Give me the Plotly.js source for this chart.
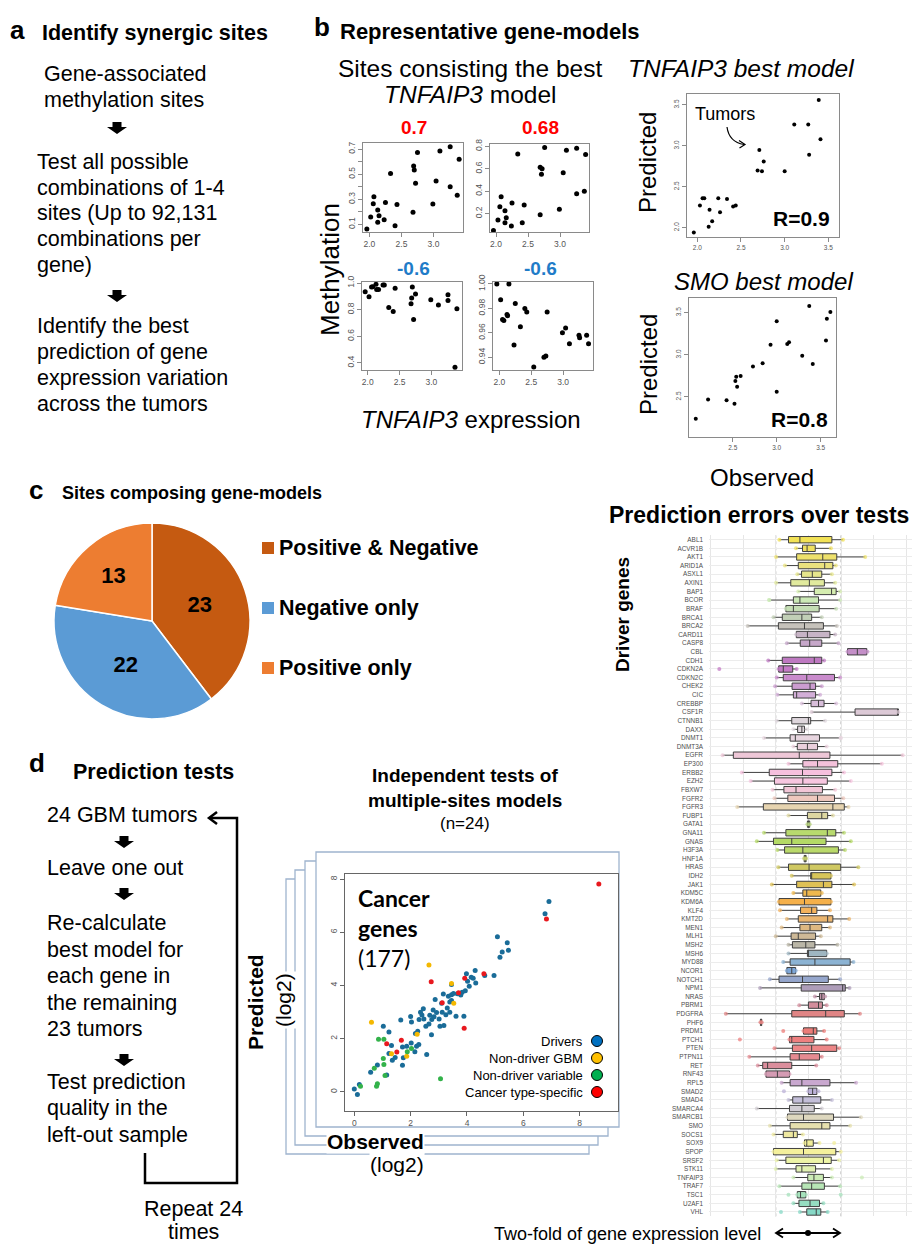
<!DOCTYPE html>
<html><head><meta charset="utf-8">
<script src="https://cdn.plot.ly/plotly-3.0.1.min.js"></script>
<style>html,body{margin:0;padding:0;background:#fff}#chart{width:919px;height:1244px}</style>
</head><body><div id="chart"></div>
<script>
// ---------- DATA ----------
// Panel b: methylation sites vs TNFAIP3 expression (24 tumors)
const site1X = [1.96,2.02,2.06,2.07,2.13,2.15,2.13,2.23,2.25,2.33,2.40,2.43,2.68,2.69,2.70,2.72,2.75,2.99,3.04,3.10,3.26,3.26,3.37,3.40];
const site1Y = [0.063,0.158,0.265,0.320,0.214,0.169,0.116,0.137,0.275,0.506,0.089,0.259,0.196,0.565,0.533,0.427,0.673,0.262,0.445,0.684,0.400,0.719,0.331,0.618];
const site2X = [1.96,2.03,2.06,2.08,2.14,2.16,2.14,2.24,2.25,2.34,2.41,2.44,2.69,2.69,2.71,2.72,2.76,2.99,3.05,3.10,3.26,3.26,3.38,3.40];
const site2Y = [0.05,0.144,0.262,0.351,0.227,0.164,0.12,0.09,0.295,0.73,0.12,0.277,0.19,0.613,0.55,0.60,0.788,0.239,0.565,0.764,0.378,0.782,0.40,0.726];
const site3X = [1.96,2.02,2.06,2.08,2.13,2.14,2.17,2.24,2.26,2.33,2.40,2.43,2.68,2.69,2.70,2.72,2.75,2.99,3.11,3.26,3.26,3.37,3.40];
const site3Y = [0.935,0.897,0.970,0.972,0.990,0.952,0.952,0.985,0.985,0.817,0.786,0.960,0.844,0.887,0.970,0.726,0.917,0.874,0.834,0.912,0.869,0.367,0.807];
const site4X = [1.96,2.02,2.05,2.07,2.12,2.13,2.15,2.23,2.25,2.33,2.40,2.43,2.54,2.70,2.73,2.75,2.99,3.04,3.10,3.25,3.26,3.37,3.40];
const site4Y = [1.000,0.987,0.971,0.970,0.975,0.974,1.000,0.950,0.984,0.965,0.980,0.977,0.932,0.940,0.941,0.977,0.960,0.964,0.951,0.958,0.956,0.958,0.951];
const siteCorr = ["0.7","0.68","-0.6","-0.6"];
// Best models: observed vs predicted
const tnfObs  = [1.96,2.03,2.06,2.08,2.13,2.14,2.17,2.24,2.26,2.34,2.41,2.44,2.69,2.71,2.74,2.76,3.00,3.11,3.27,3.28,3.39,3.41];
const tnfPred = [1.94,2.27,2.36,2.36,2.01,2.22,2.08,2.36,2.19,2.35,2.26,2.27,2.70,2.95,2.69,2.81,2.69,3.26,3.26,2.89,3.56,3.08];
const smoObs  = [2.08,2.22,2.43,2.52,2.53,2.54,2.55,2.59,2.73,2.84,2.93,3.00,3.00,3.12,3.14,3.29,3.37,3.41,3.56,3.57,3.61];
const smoPred = [2.24,2.47,2.46,2.42,2.69,2.74,2.62,2.75,2.86,2.90,3.12,3.40,2.56,3.13,3.15,2.99,3.58,2.89,3.17,3.43,3.51];
// Panel c: pie
const pieLabels = ["Positive & Negative","Negative only","Positive only"];
const pieValues = [23,22,13];
// Panel d: independent tests (observed vs predicted, log2)
const groupNames = ["Drivers","Non-driver GBM","Non-driver variable","Cancer type-specific"];
const drvX = [0.00,0.11,0.18,0.58,0.82,1.03,1.23,1.23,1.15,1.35,1.32,1.65,1.71,1.74,1.71,2.02,2.00,2.03,2.15,2.17,2.25,2.21,2.29,2.30,2.35,2.40,2.45,2.47,2.57,2.54,2.65,2.68,2.75,2.74,2.80,2.83,2.87,2.92,3.01,3.04,3.10,3.12,3.16,3.18,3.25,3.30,3.34,3.39,3.39,3.45,3.45,3.45,3.52,3.61,3.66,3.78,3.83,3.89,3.94,3.98,4.02,4.08,4.15,4.29,4.31,4.22,4.63,4.96,5.08,5.17,5.25,5.43,5.47,6.77,6.91,1.45,1.86];
const drvY = [0.11,-0.10,0.28,0.74,1.01,2.47,2.25,1.44,0.63,1.19,1.74,2.70,1.00,1.28,1.69,1.84,2.83,2.63,1.51,2.19,2.28,1.71,1.78,2.72,2.99,2.89,3.12,2.74,1.40,2.47,2.55,2.88,2.72,2.15,3.08,2.82,3.47,2.98,2.74,2.47,3.33,2.99,3.68,2.49,2.90,3.15,3.59,2.99,3.38,4.04,3.65,3.43,3.70,2.84,3.69,3.64,3.74,2.84,3.80,4.44,4.16,3.97,4.31,4.56,4.09,4.27,4.37,4.37,5.83,5.06,5.26,5.61,5.32,6.70,7.16,1.29,1.71];
const gbmX = [0.61,1.32,1.86,2.23,2.65,3.45,3.53];
const gbmY = [2.62,1.43,1.34,2.17,4.77,4.07,3.33];
const varX = [0.22,0.71,0.82,0.79,0.86,1.05,1.03,1.05,1.09,1.88,2.03,3.06];
const varY = [0.21,0.89,0.30,0.21,1.98,1.98,1.25,1.03,0.61,1.51,1.63,0.49];
const ctsX = [1.15,1.51,1.67,2.73,3.12,3.70,3.92,3.90,4.60,6.82,8.68];
const ctsY = [1.81,1.50,1.94,4.14,3.35,3.73,4.27,2.39,4.44,6.50,7.81];
// Prediction errors over tests (log2 fold error) per driver gene
const genes = ["ABL1","ACVR1B","AKT1","ARID1A","ASXL1","AXIN1","BAP1","BCOR","BRAF","BRCA1","BRCA2","CARD11","CASP8","CBL","CDH1","CDKN2A","CDKN2C","CHEK2","CIC","CREBBP","CSF1R","CTNNB1","DAXX","DNMT1","DNMT3A","EGFR","EP300","ERBB2","EZH2","FBXW7","FGFR2","FGFR3","FUBP1","GATA1","GNA11","GNAS","H3F3A","HNF1A","HRAS","IDH2","JAK1","KDM5C","KDM6A","KLF4","KMT2D","MEN1","MLH1","MSH2","MSH6","MYD88","NCOR1","NOTCH1","NPM1","NRAS","PBRM1","PDGFRA","PHF6","PRDM1","PTCH1","PTEN","PTPN11","RET","RNF43","RPL5","SMAD2","SMAD4","SMARCA4","SMARCB1","SMO","SOCS1","SOX9","SPOP","SRSF2","STK11","TNFAIP3","TRAF7","TSC1","U2AF1","VHL"];
const errLo  = [-0.89,-0.38,-0.99,-0.72,-0.34,-0.99,-0.31,-1.20,-0.69,-1.07,-1.86,-0.37,-0.66,1.20,-1.23,-0.91,-0.97,-1.02,-0.95,-0.20,0.10,-0.97,-0.46,-1.36,-0.46,-2.63,-0.61,-2.04,-1.77,-1.10,-1.04,-2.18,-0.61,-0.03,-1.36,-1.58,-0.95,-0.13,-0.92,-0.51,-1.12,-0.46,-0.90,-0.87,-0.66,-0.82,-1.00,-0.61,-0.61,-0.77,-0.66,-1.18,-1.48,0.20,-0.28,-2.53,-1.47,-0.15,-0.58,-1.04,-1.81,-1.55,-1.30,-0.82,0.00,-0.61,-1.58,-0.64,-1.18,-1.07,-0.12,-1.07,-0.97,-1.00,-0.46,-0.89,-0.34,-0.46,-0.26];
const errQ1  = [-0.61,-0.18,-0.36,-0.31,-0.21,-0.54,0.18,-0.46,-0.69,-0.80,-0.92,-0.37,-0.25,1.20,-0.80,-0.91,-0.77,-0.50,-0.46,0.08,1.43,-0.51,-0.33,-0.56,-0.34,-2.30,-0.17,-1.20,-1.04,-0.75,-0.63,-1.38,-0.03,-0.03,-0.69,-1.07,-0.73,-0.13,-0.61,0.07,-0.36,-0.17,-0.90,-0.24,-0.31,-0.26,-0.53,-0.49,-0.03,-0.56,-0.66,-0.90,-0.22,0.34,0.00,-0.51,-1.47,-0.15,-0.58,-0.49,-0.56,-1.40,-1.30,-0.56,0.00,-0.48,-0.58,-0.64,-0.56,-0.77,-0.12,-1.07,-0.69,-0.38,-0.02,-0.20,-0.34,-0.29,-0.05];
const errMed = [-0.26,-0.04,0.44,0.50,0.12,0.03,0.71,-0.26,-0.46,-0.20,-0.12,-0.03,0.04,1.50,0.18,-0.77,-0.05,0.05,-0.36,0.31,2.73,0.00,-0.20,-0.40,-0.03,-0.28,0.28,-0.18,-0.17,-0.38,0.28,0.75,0.41,0.00,0.58,-0.51,-0.17,-0.10,0.02,0.10,0.46,-0.05,-0.12,0.10,0.59,0.05,-0.31,-0.08,-0.02,0.20,-0.51,-0.18,1.05,0.41,0.31,0.53,-1.45,0.15,-0.51,0.10,-0.28,-1.25,-0.95,-0.20,0.13,-0.17,-0.20,-0.15,0.41,-0.46,-0.05,-0.15,0.46,-0.20,0.17,0.10,-0.24,0.05,0.24];
const errQ3  = [0.72,0.21,0.87,0.75,0.41,0.49,0.85,0.31,0.33,0.10,0.46,0.66,0.41,1.79,0.41,-0.48,0.80,0.22,0.22,0.48,2.76,0.07,-0.12,0.34,0.28,0.66,0.90,0.72,0.58,0.43,0.80,1.10,0.59,0.04,0.84,0.54,0.92,-0.07,0.99,0.69,0.72,0.38,0.69,0.26,0.75,0.41,0.22,0.20,0.56,1.28,-0.39,0.61,1.13,0.49,0.43,1.10,-1.43,0.26,0.17,0.87,0.34,-0.51,-0.58,0.66,0.26,0.38,0.18,0.77,0.66,-0.34,0.15,0.84,0.70,0.22,0.46,0.49,-0.08,0.34,0.38];
const errHi  = [1.06,0.69,1.74,0.84,0.72,0.82,0.97,0.97,0.85,0.41,0.87,0.82,0.92,1.81,0.48,-0.36,0.97,0.41,0.36,0.85,2.76,0.51,-0.05,0.99,0.56,2.89,2.25,1.09,1.30,0.82,1.07,1.23,0.75,0.04,1.09,1.30,1.12,-0.07,1.53,0.69,1.40,0.41,0.69,0.66,1.25,0.66,0.38,0.89,0.56,1.38,-0.39,0.97,1.26,0.51,0.56,1.58,-1.43,0.48,0.56,0.94,0.41,0.24,-0.58,1.46,0.31,0.72,0.41,1.61,1.28,-0.17,0.34,0.99,0.94,0.72,0.72,0.97,-0.08,0.46,0.59];
const outGenes = ["CDKN2A","PRDM1","PTCH1","SMAD2","TNFAIP3","VHL","TSC1","TSC1","SOX9","BCOR","DNMT1"];
const outVals  = [-2.73,-0.77,-2.10,-0.75,1.64,-0.84,0.99,-0.61,0.79,-1.20,0.99];

// ---------- STYLE ----------
const geneColors = ["#F2E256","#EFE060","#EEE16C","#EAE27E","#E6E58C","#E1EA9E","#D5EDB0","#CBE9B6","#C4DDB4","#C1CFB6","#C6C2BB","#C7B4C6","#C6A7C9","#C48FC8","#BE79C1","#C47BC6","#C98BCC","#CC9DD0","#D2AED7","#D8BEDA","#DCC9D6","#DED6DC","#E2D9DF","#E7D5DF","#EAD0DC","#EEC7D7","#F3C1DA","#F6C0DE","#F7C6E0","#F2C6D7","#EEC8BE","#E6D4B0","#DDD7A2","#B8D47E","#B8DA6E","#B4DA66","#BAD96A","#C6D26A","#CFC862","#D7C55A","#DFC155","#EFB84E","#F5B04A","#F4B25C","#EAB56F","#DEB881","#CEB997","#BAB6A7","#9FB6C1","#8CB3D3","#7EA7D7","#95A6CC","#AE9DB9","#C193A8","#D38E9C","#E08585","#E68180","#EC7C78","#EE7F7F","#EC8687","#E68B91","#DB8E9C","#D49BB3","#C9A8CF","#BCB2D8","#C3BED8","#D1CDD3","#DDD7BE","#E6E0AE","#EEE8A0","#F1EE98","#F4F09C","#EDF4A7","#E1F1B2","#CBEBB5","#B7E6B6","#A6E2BC","#96DDC1","#86D8C6"];
const W = 919, H = 1244;
const F = "'Liberation Sans', Arial, sans-serif";
const px = x => x / W, py = y => 1 - y / H;
const xd = (a, b) => [px(a), px(b)], yd = (t, b) => [py(b), py(t)];

function ann(text, x, y, size, o) {
  const left = !o || !o.xanchor || o.xanchor === 'left';
  return Object.assign({xref:'paper', yref:'paper', x:px(left ? x - 2 : x), y:py(y), text:text, showarrow:false,
    xanchor:'left', yanchor:'middle', font:{family:F, size:size, color:'#000'}}, o || {});
}
function rAxis(domain, range, tv, fmt, anchor, o) {
  return Object.assign({domain:domain, range:range, anchor:anchor, showline:true, mirror:true,
    linecolor:'#8a8a8a', linewidth:1, ticks:'outside', ticklen:4, tickcolor:'#8a8a8a',
    tickvals:tv, ticktext:tv.map(v => v.toFixed(fmt)), tickfont:{family:F, size:8.5, color:'#555'},
    showgrid:false, zeroline:false, fixedrange:true}, o || {});
}
const dot = (x, y, xa, ya, size, color) => ({type:'scatter', mode:'markers', x:x, y:y, xaxis:xa, yaxis:ya,
  marker:{size:size, color:color}, hoverinfo:'skip', showlegend:false});

const data = [];
data.push(dot(site1X, site1Y, 'x', 'y', 5, '#000'));
data.push(dot(site2X, site2Y, 'x2', 'y2', 5, '#000'));
data.push(dot(site3X, site3Y, 'x3', 'y3', 5, '#000'));
data.push(dot(site4X, site4Y, 'x4', 'y4', 5, '#000'));
data.push(dot(tnfObs, tnfPred, 'x5', 'y5', 4, '#000'));
data.push(dot(smoObs, smoPred, 'x6', 'y6', 4, '#000'));
// panel d
const grpX = [drvX, gbmX, varX, ctsX], grpY = [drvY, gbmY, varY, ctsY];
const grpCol = ['#1A6C98', '#F4B800', '#33B24A', '#E8181E'];
grpX.forEach((gx, i) => data.push(dot(gx, grpY[i], 'x7', 'y7', 5, grpCol[i])));
// pie
data.push({type:'pie', values:pieValues, labels:pieLabels, sort:false, direction:'clockwise', rotation:0,
  marker:{colors:['#C55A11','#5B9BD5','#ED7D31'], line:{color:'#fff', width:1.5}},
  texttemplate:'<b>%{value}</b>', textposition:'inside', insidetextorientation:'horizontal',
  insidetextfont:{family:F, size:22, color:'#000'}, hoverinfo:'skip', showlegend:false,
  domain:{x:xd(54, 250), y:yd(523, 719)}});
// box plot
genes.forEach((g, i) => {
  data.push({type:'box', orientation:'h', y:[g], q1:[errQ1[i]], median:[errMed[i]], q3:[errQ3[i]],
    lowerfence:[errLo[i]], upperfence:[errHi[i]], xaxis:'x8', yaxis:'y8', fillcolor:geneColors[i],
    line:{color:'#404040', width:1}, whiskerwidth:0, width:0.74, boxpoints:false, hoverinfo:'skip', showlegend:false});
});
const dX = [], dY = [], dC = [];
genes.forEach((g, i) => { [errLo[i], errHi[i]].forEach(v => { dX.push(v); dY.push(g); dC.push(geneColors[i]); }); });
outGenes.forEach((g, k) => { dX.push(outVals[k]); dY.push(g); dC.push(geneColors[genes.indexOf(g)]); });
data.push({type:'scatter', mode:'markers', x:dX, y:dY, xaxis:'x8', yaxis:'y8',
  marker:{size:4, color:dC, opacity:0.75}, hoverinfo:'skip', showlegend:false});

// ---------- LAYOUT ----------
const small = {family:F, size:6.5, color:'#555'};
const layout = {
  width:W, height:H, margin:{l:0, r:0, t:0, b:0}, paper_bgcolor:'#fff', plot_bgcolor:'rgba(0,0,0,0)',
  showlegend:false, font:{family:F},
  xaxis:  rAxis(xd(363,463), [1.90,3.46], [2.0,2.5,3.0], 1, 'y'),
  yaxis:  rAxis(yd(143,232), [0.039,0.748], [0.1,0.3,0.5,0.7], 1, 'x', {tickangle:-90, minor:{tickvals:[0.2,0.4,0.6], ticks:'outside', ticklen:4, tickcolor:'#8a8a8a'}}),
  xaxis2: rAxis(xd(490,589), [1.906,3.453], [2.0,2.5,3.0], 1, 'y2'),
  yaxis2: rAxis(yd(144,232), [0.037,0.82], [0.2,0.4,0.6,0.8], 1, 'x2', {tickangle:-90}),
  xaxis3: rAxis(xd(362,462), [1.91,3.48], [2.0,2.5,3.0], 1, 'y3'),
  yaxis3: rAxis(yd(282,370), [0.347,1.0075], [0.4,0.6,0.8,1.0], 1, 'x3', {tickangle:-90}),
  xaxis4: rAxis(xd(493,593), [1.90,3.47], [2.0,2.5,3.0], 1, 'y4'),
  yaxis4: rAxis(yd(282,370), [0.9296,1.0016], [0.94,0.96,0.98,1.00], 2, 'x4', {tickangle:-90}),
  xaxis5: rAxis(xd(687,839), [1.882,3.622], [2.0,2.5,3.0,3.5], 1, 'y5', {tickfont:small}),
  yaxis5: rAxis(yd(94,237), [1.886,3.634], [2.0,2.5,3.0,3.5], 1, 'x5', {tickangle:-90, tickfont:small}),
  xaxis6: rAxis(xd(689,836), [2.003,3.674], [2.5,3.0,3.5], 1, 'y6', {tickfont:small}),
  yaxis6: rAxis(yd(298,437), [2.024,3.675], [2.5,3.0,3.5], 1, 'x6', {tickangle:-90, tickfont:small}),
  xaxis7: rAxis(xd(345,618), [-0.33,9.36], [0,2,4,6,8], 0, 'y7', {linecolor:'#666', tickcolor:'#666'}),
  yaxis7: rAxis(yd(874,1111), [-0.72,8.19], [0,2,4,6,8], 0, 'x7', {tickangle:-90, linecolor:'#666', tickcolor:'#666'}),
  xaxis8: {domain:xd(709,912), range:[-3.046,3.175], anchor:'y8', tickvals:[-3,-2,-1,0,1,2,3], showticklabels:false,
           ticks:'', showgrid:true, gridcolor:'#e6e6e6', gridwidth:1, zeroline:false, showline:false, fixedrange:true},
  yaxis8: {domain:yd(535.4,1216.3), type:'category', categoryorder:'array', categoryarray:genes, range:[genes.length-0.5,-0.5],
           anchor:'x8', showgrid:true, gridcolor:'#ececec', ticks:'', ticklabelstandoff:5, zeroline:false, showline:false,
           tickfont:{family:F, size:6.4, color:'#4d4d4d'}, fixedrange:true},
  annotations:[], shapes:[]
};
const A = layout.annotations, S = layout.shapes;
const B = t => '<b>' + t + '</b>';
// Panel letters & headers
A.push(ann(B('a'), 10, 30, 26)); A.push(ann(B('Identify synergic sites'), 42, 33, 21.5));
A.push(ann(B('b'), 314, 27, 26)); A.push(ann(B('Representative gene-models'), 340, 32, 22));
A.push(ann(B('c'), 29, 490, 26)); A.push(ann(B('Sites composing gene-models'), 62, 493, 18));
A.push(ann(B('d'), 29, 763, 26)); A.push(ann(B('Prediction tests'), 73, 772, 21.5));
// Panel a text
[['Gene-associated',44,74],['methylation sites',44,100],['Test all possible',37,162],['combinations of 1-4',37,188],
 ['sites (Up to 92,131',37,213],['combinations per',37,239],['gene)',37,265],['Identify the best',37,326],
 ['prediction of gene',37,352],['expression variation',37,378],['across the tumors',37,404]]
 .forEach(t => A.push(ann(t[0], t[1], t[2], 21.5)));
// Panel d text
[['24 GBM tumors',815],['Leave one out',868],['Re-calculate',923],['best model for',950],['each gene in',976],
 ['the remaining',1003],['23 tumors',1029],['Test prediction',1082],['quality in the',1108],['left-out sample',1135]]
 .forEach(t => A.push(ann(t[0], 47, t[1], 21.5)));
A.push(ann('Repeat 24', 193, 1209, 21.5, {xanchor:'center'}));
A.push(ann('times', 193, 1232, 21.5, {xanchor:'center'}));
// Block arrows
function downArrow(cx, top) {
  const p = [[cx-4.5,top],[cx+4.5,top],[cx+4.5,top+5],[cx+10,top+5],[cx,top+12],[cx-10,top+5],[cx-4.5,top+5]];
  return {type:'path', xref:'paper', yref:'paper', path:'M' + p.map(q => px(q[0]) + ',' + py(q[1])).join(' L') + ' Z',
    fillcolor:'#000', line:{width:0}};
}
[[117,122],[117,290],[124,836],[124,888],[124,1054]].forEach(a => S.push(downArrow(a[0], a[1])));
function pathS(pts, w, o) {
  return Object.assign({type:'path', xref:'paper', yref:'paper', path:'M' + pts.map(q => px(q[0]) + ',' + py(q[1])).join(' L'),
    line:{color:'#000', width:w}}, o || {});
}
S.push(pathS([[145,1153],[145,1183],[237,1183],[237,818],[210,818]], 2.5));
S.push(pathS([[217,812],[209,818],[217,824]], 2.5));
// Panel b text
A.push(ann('Sites consisting the best', 470, 68, 24.5, {xanchor:'center'}));
A.push(ann('<i>TNFAIP3</i> model', 470, 95, 24.5, {xanchor:'center'}));
const corrPos = [[414,128,'#FF0000'],[540,128,'#FF0000'],[413,268,'#1F7CC8'],[540,268,'#1F7CC8']];
siteCorr.forEach((c, i) => A.push(ann(B(c), corrPos[i][0], corrPos[i][1], 19, {xanchor:'center', font:{family:F, size:19, color:corrPos[i][2]}})));
A.push(ann('Methylation', 330, 270, 26, {xanchor:'center', textangle:-90}));
A.push(ann('<i>TNFAIP3</i> expression', 471, 420, 24, {xanchor:'center'}));
A.push(ann('<i>TNFAIP3 best model</i>', 741, 68, 24.5, {xanchor:'center'}));
A.push(ann('Predicted', 648, 163, 24, {xanchor:'center', textangle:-90}));
A.push(ann('Tumors', 725, 114, 18, {xanchor:'center'}));
S.push({type:'path', xref:'paper', yref:'paper', path:'M' + px(727) + ',' + py(127) + ' Q' + px(729) + ',' + py(142) + ' ' + px(744) + ',' + py(144.5), line:{color:'#000', width:1.2}});
S.push(pathS([[739,140.5],[745,144.5],[739.5,148]], 1.2));
A.push(ann(B('R=0.9'), 801, 219, 21, {xanchor:'center'}));
A.push(ann('<i>SMO best model</i>', 763, 281, 24, {xanchor:'center'}));
A.push(ann('Predicted', 648, 365, 24, {xanchor:'center', textangle:-90}));
A.push(ann(B('R=0.8'), 799, 419, 21, {xanchor:'center'}));
A.push(ann('Observed', 762, 477, 24, {xanchor:'center'}));
// Panel c legend
const pieCols = ['#C55A11','#5B9BD5','#ED7D31'];
pieLabels.forEach((l, i) => {
  const yc = 548 + 60 * i;
  S.push({type:'rect', xref:'paper', yref:'paper', x0:px(262), x1:px(274), y0:py(yc+6), y1:py(yc-6), fillcolor:pieCols[i], line:{width:0}});
  A.push(ann(B(l), 279, yc, 21.5));
});
// Panel d middle
A.push(ann(B('Independent tests of'), 465, 775, 19, {xanchor:'center'}));
A.push(ann(B('multiple-sites models'), 465, 800, 19, {xanchor:'center'}));
A.push(ann('(n=24)', 465, 823, 17, {xanchor:'center'}));
// stacked cards (back to front)
[[286,879,589,1154],[295,870,598,1145],[305,861,608,1136],[316,852,619,1127]].forEach(c =>
  S.push({type:'rect', xref:'paper', yref:'paper', layer:'below', x0:px(c[0]), x1:px(c[2]), y0:py(c[3]), y1:py(c[1]),
    fillcolor:'#fff', line:{color:'#9FB4CE', width:1.3}}));
const LF = {family:"Lato, 'Liberation Sans', sans-serif", size:23, color:'#000'};
A.push(ann(B('Cancer'), 358, 898, 23, {font:LF}));
A.push(ann(B('genes'), 358, 928, 23, {font:LF}));
A.push(ann('(177)', 358, 958, 23, {font:LF}));
A.push(ann(B('Predicted'), 256, 1002, 21, {xanchor:'center', textangle:-90, bgcolor:'#fff'}));
A.push(ann('(log2)', 283, 1000, 21, {xanchor:'center', textangle:-90, bgcolor:'#fff'}));
A.push(ann(B('Observed'), 375, 1141, 21, {xanchor:'center', bgcolor:'#fff', borderpad:0}));
A.push(ann('(log2)', 397, 1164, 21, {xanchor:'center', bgcolor:'#fff', borderpad:0}));
const legCol = ['#0070C0','#FFC000','#00B050','#FF0000'];
groupNames.forEach((g, i) => {
  const yc = 1041 + 17 * i;
  A.push(ann(g, 585, yc, 13, {xanchor:'right'}));
  S.push({type:'circle', xref:'paper', yref:'paper', x0:px(591.5), x1:px(602.5), y0:py(yc+5.5), y1:py(yc-5.5), fillcolor:legCol[i], line:{color:'#000', width:1}});
});
// box plot extras
A.push(ann(B('Prediction errors over tests'), 759, 515, 23, {xanchor:'center'}));
A.push(ann(B('Driver genes'), 622, 615, 19, {xanchor:'center', textangle:-90}));
[-1, 1].forEach(v => S.push({type:'line', xref:'x8', yref:'paper', x0:v, x1:v, y0:py(1216.3), y1:py(535.4), layer:'below',
  line:{color:'#a8a8a8', width:1, dash:'dot'}}));
A.push(ann('Two-fold of gene expression level', 763, 1234, 18, {xanchor:'right'}));
S.push(pathS([[776,1233],[840,1233]], 1.8));
S.push(pathS([[783,1228.5],[776,1233],[783,1237.5]], 1.8));
S.push(pathS([[833,1228.5],[840,1233],[833,1237.5]], 1.8));
S.push({type:'circle', xref:'paper', yref:'paper', x0:px(805), x1:px(811), y0:py(1236), y1:py(1230), fillcolor:'#000', line:{width:0}});

Plotly.newPlot('chart', data, layout, {displayModeBar:false, staticPlot:true});
</script></body></html>
